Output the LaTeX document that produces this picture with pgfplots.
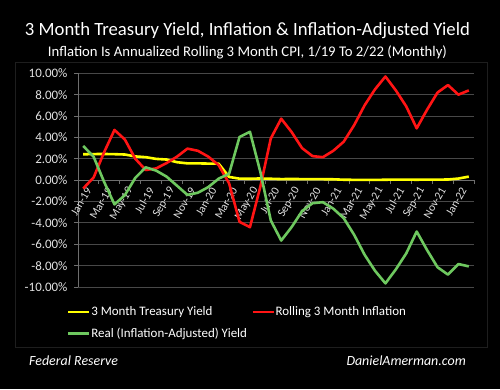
\documentclass[border=0pt]{standalone}
\usepackage{pgfplots}
\pgfplotsset{compat=1.18}
\usepackage{pgfplotstable}
\usepackage{fontspec}
\setmainfont{Carlito}
\definecolor{tyel}{RGB}{255,255,0}
\definecolor{tred}{RGB}{255,20,20}
\definecolor{tgrn}{RGB}{110,200,95}
\definecolor{gridc}{RGB}{72,72,72}
\definecolor{axc}{RGB}{110,110,110}
\definecolor{lblc}{RGB}{225,225,225}
\definecolor{boxc}{RGB}{30,30,30}

\pgfplotstableread{
i y r g
0 2.42 -0.78 3.20
1 2.44 0.25 2.19
2 2.45 2.60 -0.15
3 2.43 4.70 -2.27
4 2.40 3.80 -1.40
5 2.22 2.00 0.22
6 2.15 0.95 1.20
7 1.99 1.10 0.89
8 1.93 1.60 0.33
9 1.68 2.20 -0.52
10 1.57 2.95 -1.38
11 1.57 2.75 -1.18
12 1.55 2.20 -0.65
13 1.54 1.40 0.14
14 0.30 -0.30 0.60
15 0.14 -3.90 4.04
16 0.13 -4.40 4.53
17 0.16 -0.60 0.76
18 0.13 3.90 -3.77
19 0.10 5.75 -5.65
20 0.11 4.50 -4.39
21 0.10 3.00 -2.90
22 0.09 2.25 -2.16
23 0.09 2.15 -2.06
24 0.08 2.75 -2.67
25 0.04 3.60 -3.56
26 0.03 5.15 -5.12
27 0.02 7.00 -6.98
28 0.02 8.50 -8.48
29 0.04 9.70 -9.66
30 0.05 8.40 -8.35
31 0.05 6.90 -6.85
32 0.04 4.85 -4.81
33 0.05 6.60 -6.55
34 0.05 8.20 -8.15
35 0.06 8.90 -8.84
36 0.15 8.00 -7.85
37 0.33 8.40 -8.07
}\data

\begin{document}
\begin{tikzpicture}[x=1bp,y=1bp]
\fill[black] (0,0) rectangle (500,389);
\draw[boxc, line width=0.8bp] (15,42) rectangle (487,327);
\node[anchor=base, text=white, inner sep=0pt] at (247.5,354) {\resizebox{445bp}{!}{3 Month Treasury Yield, Inflation \& Inflation-Adjusted Yield}};
\node[anchor=base, text=white, inner sep=0pt] at (247.5,333) {\resizebox{399bp}{!}{Inflation Is Annualized Rolling 3 Month CPI, 1/19 To 2/22 (Monthly)}};
\begin{axis}[at={(78bp,102bp)}, anchor=south west, scale only axis,
  width=396bp, height=213.7bp,
  xmin=-0.5, xmax=37.5, ymin=-10, ymax=10,
  axis x line=middle, axis y line=left,
  axis line style={-, draw=axc, line width=0.8bp},
  ytick={-10,-8,...,10},
  yticklabels={-10.00\%,-8.00\%,-6.00\%,-4.00\%,-2.00\%,0.00\%,2.00\%,4.00\%,6.00\%,8.00\%,10.00\%},
  yticklabel style={text=lblc, font=\fontsize{13}{14}\selectfont, xshift=-3bp},
  ytick style={draw=axc, line width=0.8bp},
  tick align=outside, major tick length=4bp,
  ymajorgrids, grid style={gridc, line width=0.9bp},
  xtick={-0.5,1.5,...,37.5}, xticklabels={},
  xtick style={draw=axc, line width=0.8bp},
  extra x ticks={0,2,...,36},
  extra x tick labels={Jan-19,Mar-19,May-19,Jul-19,Sep-19,Nov-19,Jan-20,Mar-20,May-20,Jul-20,Sep-20,Nov-20,Jan-21,Mar-21,May-21,Jul-21,Sep-21,Nov-21,Jan-22},
  extra x tick style={major tick length=0pt, grid=none},
  xticklabel style={rotate=60, anchor=east, text=lblc, font=\fontsize{11.5}{12}\selectfont, yshift=-9bp, xshift=-1bp},
  legend style={at={(axis description cs:-0.0278,-0.089)}, anchor=north west,
    draw=none, fill=none, text=white, font=\fontsize{13}{14}\selectfont,
    legend columns=2, row sep=10bp, inner sep=0pt,
    nodes={inner sep=0.5bp},
    /tikz/every even column/.append style={column sep=4bp}},
  legend cell align=left,
  legend image code/.code={\draw[#1] (0bp,0bp) -- (21bp,0bp);},
]
\addplot[tyel, line width=2.6bp, line join=round] table[x=i,y=y]{\data};
\addlegendentry{3 Month Treasury Yield}
\addplot[tred, line width=2.6bp, line join=round] table[x=i,y=r]{\data};
\addlegendentry{Rolling 3 Month Inflation}
\addplot[tgrn, line width=2.6bp, line join=round] table[x=i,y=g]{\data};
\addlegendentry{Real (Inflation-Adjusted) Yield}
\end{axis}
\node[anchor=base west, text=white, inner sep=0pt, font=\itshape\fontsize{14}{15}\selectfont] at (29,24) {Federal Reserve};
\node[anchor=base east, text=white, inner sep=0pt, font=\itshape\fontsize{14}{15}\selectfont] at (466,24) {DanielAmerman.com};
\pgfresetboundingbox
\path[use as bounding box] (0,0) rectangle (500,389);
\end{tikzpicture}
\end{document}
